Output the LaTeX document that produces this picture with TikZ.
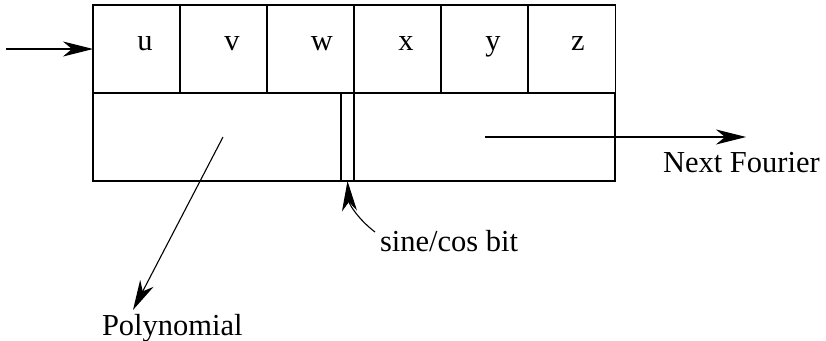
\documentclass[tikz,border=0pt]{standalone}
\usepackage{fontspec}
\setmainfont{Liberation Serif}
\usetikzlibrary{arrows.meta}
\begin{document}
\begin{tikzpicture}[x=1pt,y=-1pt,
  every node/.style={font=\fontsize{30.5}{36}\selectfont, inner sep=0pt, outer sep=0pt},
  cell/.style={draw, line width=1.1pt, minimum width=87pt, minimum height=88pt, anchor=north west},
  lab/.style={anchor=base},
  arr/.style={line width=1.1pt, -{Stealth[length=30pt,width=15pt,inset=9pt]}},
  thin/.style={line width=1.1pt}]
\useasboundingbox (0,0) rectangle (826,340);
% cells
\node[cell] (cu) at (93,5) {};
\node[cell] (cv) at (180,5) {};
\node[cell] (cw) at (267,5) {};
\node[cell] (cx) at (354,5) {};
\node[cell] (cy) at (441,5) {};
\node[cell, minimum width=87.5pt] (cz) at (528,5) {};
% bottom rectangle
\node[draw, line width=1.3pt, minimum width=522pt, minimum height=88pt, anchor=north west] (bot) at (93,93) {};
\draw[line width=2pt] (cu.south west) -- (cz.south east);
% sine/cos bar
\node[draw, line width=1.1pt, minimum width=13pt, minimum height=88pt, anchor=north west] (bar) at (341,93) {};
% letters
\node[lab] (lu) at (145,50) {u};
\node[lab] (lv) at (232,50) {v};
\node[lab] (lw) at (322,50) {w};
\node[lab] (lx) at (406,50) {x};
\node[lab] (ly) at (493,50) {y};
\node[lab] (lz) at (578,50) {z};
% texts
\node[anchor=base west] (poly) at (102,335) {Polynomial};
\node[anchor=base west] (next) at (663,172) {Next Fourier};
\node[anchor=base west] (sine) at (380,251) {sine/cos bit};
% connectors
\coordinate (in) at (6,49);
\draw[arr] (in) -- (cu.west);
\coordinate (ps) at (223,137);
\coordinate (pt) at (133,310);
\draw[arr] (ps) -- (pt);
\coordinate (ns) at (485,137);
\coordinate (nt) at (746,137);
\draw[arr] (ns) -- (nt);
\coordinate (st) at (375,232);
\draw[arr] (st) .. controls (358,219) and (349,204) .. (bar.south);
\end{tikzpicture}
\end{document}
